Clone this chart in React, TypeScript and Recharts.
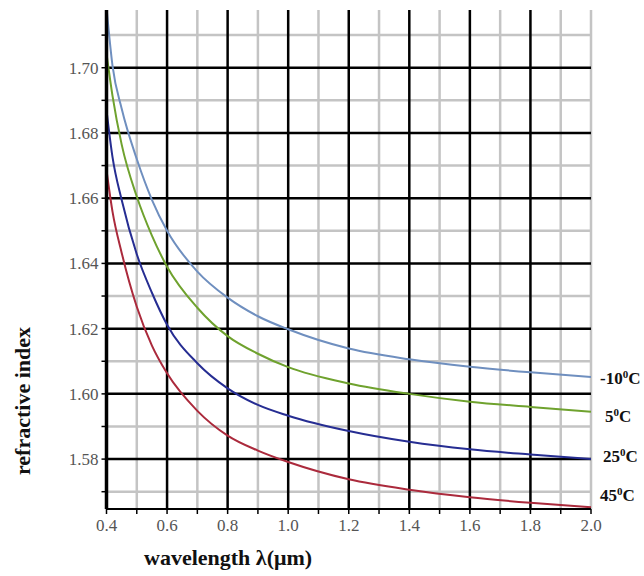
import React from "react";
import { LineChart, Line, XAxis, YAxis, ReferenceLine } from "recharts";

// wavelength in micrometres
const wavelengths = [0.4, 0.42, 0.45, 0.5, 0.55, 0.6, 0.7, 0.8, 0.9, 1.0, 1.2, 1.4, 1.6, 1.8, 2.0];

// refractive index per temperature
const minus10C = [1.7185, 1.7005, 1.6875, 1.672, 1.6595, 1.65, 1.6375, 1.6295, 1.6238, 1.6198, 1.6139, 1.6106, 1.6083, 1.6066, 1.6052];
const plus5C = [1.7044, 1.6913, 1.6765, 1.6605, 1.6485, 1.639, 1.6264, 1.6177, 1.6123, 1.6082, 1.6032, 1.6, 1.5976, 1.596, 1.5945];
const plus25C = [1.687, 1.6725, 1.6595, 1.6428, 1.631, 1.6212, 1.6094, 1.6017, 1.5966, 1.5933, 1.5886, 1.5853, 1.583, 1.5814, 1.58];
const plus45C = [1.6686, 1.6558, 1.6433, 1.6267, 1.6148, 1.6063, 1.5948, 1.5872, 1.5826, 1.5791, 1.5738, 1.5706, 1.5683, 1.5666, 1.5652];

const xTicks = [0.4, 0.5, 0.6, 0.7, 0.8, 0.9, 1.0, 1.1, 1.2, 1.3, 1.4, 1.5, 1.6, 1.7, 1.8, 1.9, 2.0];
const xMajor = [0.6, 0.8, 1.0, 1.2, 1.4, 1.6, 1.8];
const xMinor = [0.5, 0.7, 0.9, 1.1, 1.3, 1.5, 1.7, 1.9, 2.0];
const xLabels = ["0.4", "0.6", "0.8", "1.0", "1.2", "1.4", "1.6", "1.8", "2.0"];

const yTicks = [1.57, 1.58, 1.59, 1.6, 1.61, 1.62, 1.63, 1.64, 1.65, 1.66, 1.67, 1.68, 1.69, 1.7, 1.71];
const yMajor = [1.58, 1.6, 1.62, 1.64, 1.66, 1.68, 1.7];
const yMinor = [1.57, 1.59, 1.61, 1.63, 1.65, 1.67, 1.69, 1.71];
const yLabels = ["1.58", "1.60", "1.62", "1.64", "1.66", "1.68", "1.70"];

const series = [
  { key: "m10", values: minus10C, color: "#6f8fbf" },
  { key: "p5", values: plus5C, color: "#6fa22e" },
  { key: "p25", values: plus25C, color: "#262d92" },
  { key: "p45", values: plus45C, color: "#ab2a3c" },
];

const tempLabels = [
  { num: "-10", left: 600, top: 370 },
  { num: "5", left: 605, top: 408 },
  { num: "25", left: 603, top: 448 },
  { num: "45", left: 600, top: 487 },
];

const data = wavelengths.map((x, i) => {
  const row: Record<string, number> = { x };
  series.forEach((s) => (row[s.key] = s.values[i]));
  return row;
});

const serif = "'Liberation Serif', 'Times New Roman', serif";

// tick text in a serif face; minor ticks get no label
function SerifTick(props: any) {
  const { x, y, payload, labels, digits, axis } = props;
  const s = Number(payload.value).toFixed(digits);
  if (!labels.includes(s)) return null;
  return (
    <text
      x={axis === "x" ? x : x - 1}
      y={axis === "x" ? y + 15 : y + 6}
      textAnchor={axis === "x" ? "middle" : "end"}
      fontFamily={serif}
      fontSize={17}
      fill="#555"
      style={{ fontFamily: serif }}
    >
      {s}
    </text>
  );
}

export default function App() {
  return (
    <div style={{ position: "absolute", left: 0, top: 0, width: 644, height: 576, background: "#fff" }}>
      <LineChart width={644} height={576} data={data} margin={{ top: 10, right: 53, bottom: 37, left: 10 }}>
        <XAxis
          type="number"
          dataKey="x"
          domain={[0.4, 2.0]}
          ticks={xTicks}
          height={30}
          tickSize={5}
          tick={(p: any) => <SerifTick {...p} labels={xLabels} digits={1} axis="x" />}
          axisLine={{ stroke: "#000", strokeWidth: 2 }}
          tickLine={{ stroke: "#000", strokeWidth: 1.5 }}
          allowDataOverflow
        />
        <YAxis
          type="number"
          domain={[1.5647, 1.7177]}
          ticks={yTicks}
          width={96.5}
          tickSize={5}
          tick={(p: any) => <SerifTick {...p} labels={yLabels} digits={2} axis="y" />}
          axisLine={{ stroke: "#000", strokeWidth: 3.5 }}
          tickLine={{ stroke: "#000", strokeWidth: 1.5 }}
          allowDataOverflow
        />
        {yMinor.map((v) => (
          <ReferenceLine key={`ym${v}`} y={v} stroke="#c4c4c4" strokeWidth={2.5} />
        ))}
        {xMinor.map((v) => (
          <ReferenceLine key={`xm${v}`} x={v} stroke="#c4c4c4" strokeWidth={2.5} />
        ))}
        {yMajor.map((v) => (
          <ReferenceLine key={`yM${v}`} y={v} stroke="#000" strokeWidth={2.5} />
        ))}
        {xMajor.map((v) => (
          <ReferenceLine key={`xM${v}`} x={v} stroke="#000" strokeWidth={2.5} />
        ))}
        {series.map((s) => (
          <Line
            key={s.key}
            type="monotone"
            dataKey={s.key}
            stroke={s.color}
            strokeWidth={2}
            dot={false}
            isAnimationActive={false}
          />
        ))}
      </LineChart>

      {tempLabels.map((t) => (
        <div
          key={t.num}
          style={{
            position: "absolute",
            left: t.left,
            top: t.top,
            fontFamily: serif,
            fontWeight: "bold",
            fontSize: 17,
            lineHeight: "17px",
            color: "#111",
            whiteSpace: "nowrap",
          }}
        >
          {t.num}
          <span style={{ fontSize: 11, position: "relative", top: -6 }}>0</span>C
        </div>
      ))}

      <div
        style={{
          position: "absolute",
          left: 144,
          top: 546,
          fontFamily: serif,
          fontWeight: "bold",
          fontSize: 22,
          lineHeight: "24px",
          color: "#111",
          whiteSpace: "nowrap",
        }}
      >
        wavelength λ(μm)
      </div>
      <div
        style={{
          position: "absolute",
          left: 23,
          top: 401,
          transform: "translate(-50%, -50%) rotate(-90deg)",
          fontFamily: serif,
          fontWeight: "bold",
          fontSize: 22,
          lineHeight: "24px",
          color: "#111",
          whiteSpace: "nowrap",
        }}
      >
        refractive index
      </div>
    </div>
  );
}
